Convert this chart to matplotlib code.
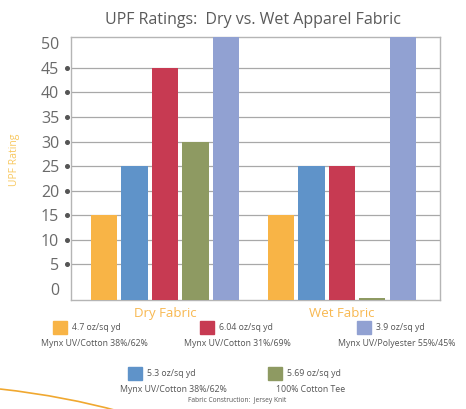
import numpy as np
import matplotlib.pyplot as plt
from matplotlib.patches import Rectangle, PathPatch
from matplotlib.path import Path
import matplotlib.transforms as mtransforms

plt.rcParams['font.family'] = ['Open Sans', 'DejaVu Sans']

groups = ["Dry Fabric", "Wet Fabric"]
weights = ["4.7 oz/sq yd", "5.3 oz/sq yd", "6.04 oz/sq yd", "5.69 oz/sq yd", "3.9 oz/sq yd"]
blends = ["Mynx UV/Cotton 38%/62%", "Mynx UV/Cotton 38%/62%", "Mynx UV/Cotton 31%/69%",
          "100% Cotton Tee", "Mynx UV/Polyester 55%/45%"]
colors = ["#F8B446", "#5F93C9", "#C73A52", "#8E9A62", "#91A1D2"]
# UPF values per fabric: [dry, wet]
upf = [
    [15, 15],
    [25, 25],
    [45, 25],
    [30, -1.9],
    [55, 55],
]
yticks = [0, 5, 10, 15, 20, 25, 30, 35, 40, 45, 50]

fig = plt.figure(figsize=(4.66, 4.09), dpi=100)
ax = fig.add_axes([71/466, 1-300/409, 369/466, 263/409])

ymin, ymax = -2.3, 51.3
x = np.arange(len(groups))
step = 0.172
width = 0.148
for i, (vals, c) in enumerate(zip(upf, colors)):
    vals = np.array(vals)
    ax.bar(x + (i - 2) * step, vals - ymin, width, bottom=ymin, color=c, zorder=3)

ax.set_xlim(-0.531, 1.554)
ax.set_ylim(ymin, ymax)
ax.set_yticks(yticks)
ax.set_yticklabels([str(v) for v in yticks], fontsize=11.5, color="#6a6a6a")
ax.tick_params(axis='y', length=0, pad=8.5)
ax.set_xticks([])
for v in yticks[1:-1]:
    ax.axhline(v, color="#a8a8a8", lw=0.9, zorder=1)
# little dots beside the tick labels
trans = mtransforms.blended_transform_factory(ax.transAxes, ax.transData)
ax.plot([-0.011] * len(yticks[1:-1]), yticks[1:-1], 'o', ms=2.6, color="#555555",
        transform=trans, clip_on=False)
for s in ax.spines.values():
    s.set_color("#b5b5b5")
    s.set_linewidth(1.0)

for xi, g in zip(x, groups):
    ax.text(xi, -0.05, g, transform=mtransforms.blended_transform_factory(ax.transData, ax.transAxes),
            ha='center', va='center', fontsize=9.5, color="#F8B850")

fig.text(15/466, 1-160/409, "UPF Rating", rotation=90, ha='center', va='center',
         fontsize=7.5, color="#F8C860")
fig.text(253/466, 1-20/409, "UPF Ratings:  Dry vs. Wet Apparel Fabric", ha='center', va='center',
         fontsize=11.5, color="#5a5a5a")

# legend layout (figure pixels): swatch x, swatch y, second line center x
leg_pos = [(53, 321, 94), (128, 367, 173), (200, 321, 237), (268, 367, 311), (357, 321, 397)]
W, H = 466, 409
for (sx, sy, cx), w, b, c in zip(leg_pos, weights, blends, colors):
    fig.patches.append(Rectangle((sx/W, 1-(sy+13)/H), 14/W, 13/H, transform=fig.transFigure,
                                 color=c, figure=fig))
    fig.text((sx+19)/W, 1-(sy+6)/H, w, ha='left', va='center', fontsize=6.3, color="#555555")
    fig.text(cx/W, 1-(sy+22)/H, b, ha='center', va='center', fontsize=6.3, color="#555555")

fig.text(237/W, 1-400/H, "Fabric Construction:  Jersey Knit", ha='center', va='center',
         fontsize=4.8, color="#555555")

# decorative swoosh bottom-left
verts = [(0, 1-389/H), (45/W, 1-394/H), (85/W, 1-402/H), (118/W, 1-411/H)]
swoosh = PathPatch(Path(verts, [Path.MOVETO, Path.CURVE4, Path.CURVE4, Path.CURVE4]),
                   transform=fig.transFigure, fill=False, edgecolor="#F0A830", lw=1.2)
fig.patches.append(swoosh)

fig.savefig("out.png", dpi=100)
